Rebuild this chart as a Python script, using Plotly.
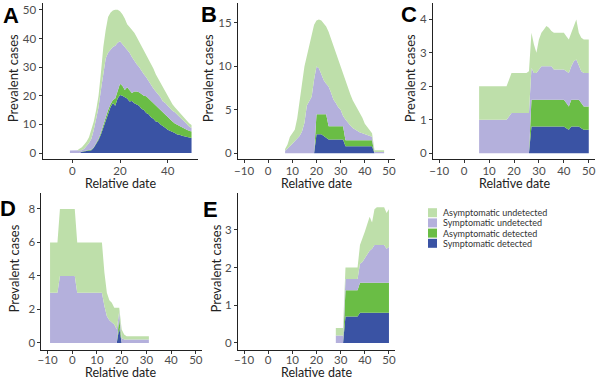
import plotly.graph_objects as go

W, H = 600, 380

# ---------------- data ----------------
series_names = ["Symptomatic detected", "Asymptomatic detected",
                "Symptomatic undetected", "Asymptomatic undetected"]
series_colors = ["#3A53A4", "#6ABD45", "#B4B0DC", "#BEDFAA"]

# Panel A, relative days -1..50
a_days = list(range(-1, 51))
a_sd = [0, 0, 0, 0, 0, 0.4, 0.5, 0.7, 0.8, 1.0, 1.8, 3.0, 4.5, 6.5, 9, 11, 13.5, 16, 17.5, 16.5,
        19, 20.3, 20, 19.5, 19, 18, 18.2, 17.4, 17, 16.5, 15.5, 15, 14, 13.5, 12.5, 12, 11, 10.8,
        10, 9.5, 8.8, 8.1, 7.8, 7.4, 7, 6.5, 6.4, 6, 5.8, 5.5, 5.3, 5.2]
a_ad = [0, 0, 0, 0, 0, 0.1, 0.2, 0.2, 0.2, 0.2, 0.2, 0.3, 0.5, 0.7, 1, 1.5, 1.5, 1, 1, 2.5,
        3, 3.9, 3.5, 2.5, 4, 4, 2.8, 4.1, 4.5, 4.7, 5, 5, 5.8, 5.5, 5.5, 5.3, 5.5, 4.7,
        4.8, 4.5, 4.4, 4.4, 3.9, 3.6, 3.3, 3.3, 2.9, 2.9, 2.7, 2.6, 2.5, 2.3]
a_su = [0.9, 0.9, 0.9, 0.9, 1.0, 0.5, 0.8, 1.6, 2.5, 3.8, 6.0, 8.7, 11, 14.8, 18, 20.5, 20, 19, 18.5, 18.5,
        16.5, 14.8, 14.5, 15, 13, 13, 12.5, 10.5, 9.5, 8.8, 8, 7.5, 6.7, 6, 6, 5.2, 5, 5,
        4.7, 4, 4.3, 4, 3.8, 3.8, 3.9, 3.7, 3.5, 2.9, 2.5, 1.9, 1.5, 1.2]
a_au = [0, 0, 0, 0, 0.5, 1.0, 1.5, 1.5, 2.0, 3.0, 3.0, 3.0, 4, 6, 9, 10, 12.5, 13, 12.8, 12.5,
        11.5, 10.5, 10.5, 10, 9, 9, 9.5, 10, 9.5, 9, 8.5, 8.5, 7.5, 7.5, 7, 7, 6, 5.5,
        5, 5, 3.5, 3, 3, 2.2, 1.8, 1.5, 1.2, 1.2, 1, 1, 1.1, 1.1]

# Panel B, relative days 7..48
b_days = list(range(7, 49))
b_sd = [0] * 13 + [2.2, 2.2, 2.2, 2.0, 1.8] + [1.6] * 7 + [0.8] * 12 + [0] * 5
b_ad = [0] * 13 + [2.3, 2.3, 2.3, 2.5, 2.7] + [1.5] * 7 + [0.7] * 12 + [0] * 5
b_su = [0.3, 0.5, 0.8, 1.1, 1.4, 1.7, 2.0, 2.5, 3.5, 5.5, 6.0, 6.5, 8.5, 5.5, 5.3, 4.5, 3.9, 3.5,
        4.6, 3.9, 3.1, 2.7, 2.2, 1.9, 1.2, 2.4, 2.0, 1.7, 1.4, 1.2, 1.0, 0.9, 0.8, 0.7, 0.6,
        0.5, 0.4, 0.15, 0.15, 0.15, 0.15, 0.15]
b_au = [0.2, 0.5, 1.1, 1.2, 1.3, 2.3, 3.8, 5.5, 6.5, 5.7, 6.3, 7.0, 6.3, 5.3, 5.6, 6.3, 6.6, 6.6,
        6.3, 6.2, 6.1, 5.7, 5.5, 5.0, 4.7, 4.4, 4.0, 3.6, 3.2, 2.9, 2.5, 2.2, 1.8, 1.2, 0.9,
        0.6, 0.4, 0.2, 0.2, 0.2, 0.2, 0.2]

# Panel C, relative days 6..50
c_days = list(range(6, 51))
c_sd = [0] * 21 + [0.8] * 14 + [0.75, 0.7] + [0.8] * 4 + [0.75] + [0.7] * 3
c_ad = [0] * 21 + [0.8] * 14 + [0.75, 0.7] + [0.8] * 4 + [0.75] + [0.7] * 3
c_su = [1.0] * 12 + [1.1] + [1.2] * 7 + [1.2, 0.95, 0.8, 0.8, 0.9, 1.0, 1.0, 1.0, 1.0, 1.0] \
       + [0.9] * 5 + [0.95, 1.0, 1.0, 1.15, 1.2, 1.0, 0.95] + [1.0] * 3
c_au = [1.0] * 12 + [1.1] + [1.2] * 7 + [1.25, 1.05, 0.85, 0.6, 0.9, 1.0, 1.1, 1.2, 1.15, 1.05] \
       + [1.1] * 5 + [1.05, 1.0, 1.0, 1.05, 1.2, 1.0, 1.0] + [1.0] * 3

# Panel D, relative days -9..31
d_days = list(range(-9, 32))
d_sd = [0] * 28 + [0.9] + [0] * 12
d_ad = [0] * 28 + [0.6] + [0] * 12
d_su = [3] * 4 + [4] * 7 + [3] * 11 + [2.2, 1.6, 1.35, 1.2, 1.1, 0.8, 0.4, 0.3, 0.2] + [0.2] * 10
d_au = [3] * 4 + [4] * 7 + [3] * 11 + [2.0, 1.4, 1.2, 1.2, 1.0, 1.3, 0.2, 0.5, 0.3] + [0.2] * 10

# Panel E, relative days 28..50
e_days = list(range(28, 51))
e_sd = [0] * 4 + [0.7] * 6 + [0.8] * 13
e_ad = [0] * 4 + [0.7] * 6 + [0.8] * 13
e_su = [0.2] * 4 + [0.3] * 6 + [0.5, 0.55, 0.65, 0.75, 0.85, 0.9, 1.0, 1.0, 1.0, 1.0, 1.0, 0.9, 0.95]
e_au = [0.2] * 4 + [0.3] * 6 + [0.5, 0.6, 0.7, 0.8, 0.9, 0.7, 0.95, 1.0, 1.0, 1.0, 1.0, 0.95, 1.0]

panel_labels = ["A", "B", "C", "D", "E"]
x_ticks_a = [0, 20, 40]
x_ticks = [-10, 0, 10, 20, 30, 40, 50]
y_ticks = [[0, 10, 20, 30, 40, 50], [0, 5, 10, 15], [0, 1, 2, 3, 4], [0, 2, 4, 6, 8], [0, 1, 2, 3]]
x_title = "Relative date"
y_title = "Prevalent cases"

panels = [
    (a_days, [a_sd, a_ad, a_su, a_au]),
    (b_days, [b_sd, b_ad, b_su, b_au]),
    (c_days, [c_sd, c_ad, c_su, c_au]),
    (d_days, [d_sd, d_ad, d_su, d_au]),
    (e_days, [e_sd, e_ad, e_su, e_au]),
]

# ---------------- layout geometry (pixels) ----------------
boxes = [(42.5, 197.5, 3, 159.3), (238, 395, 3, 159.3), (433, 595, 3, 159.3),
         (41.4, 202, 193, 350), (238, 395, 193, 350)]
y_ranges = [[-2.2, 52.4], [-0.69, 17.3], [-0.18, 4.49], [-0.42, 8.95], [-0.186, 3.98]]
x_range = [-12.5, 52.5]
letter_pos = [(11, 15), (209, 14), (409, 14), (8, 208), (210, 209)]
ytitle_x = [13, 208, 410, 13, 215]
xtitle_y = [183.5, 183.5, 183.5, 372.5, 372.5]
xtitle_cx = [120, 316.5, 514, 120, 316.5]
tick_standoff = [-2, -2, -2, -4, -4]

FONT = "Lato"
TXT = "#4D4D4D"


def fx(p):
    return p / W


def fy(p):
    return 1 - p / H


fig = go.Figure()
for i, (days, layers) in enumerate(panels):
    sfx = "" if i == 0 else str(i + 1)
    for name, vals, col in zip(series_names, layers, series_colors):
        fig.add_trace(go.Scatter(
            x=days, y=vals, name=name, stackgroup="s" + str(i),
            mode="lines", line=dict(width=0, color=col), fillcolor=col,
            xaxis="x" + sfx, yaxis="y" + sfx, showlegend=False, hoverinfo="skip"))

layout = dict(width=W, height=H, margin=dict(l=0, r=0, t=0, b=0),
              paper_bgcolor="white", plot_bgcolor="white", showlegend=False,
              font=dict(family=FONT, color=TXT))
for i, (x0, x1, yt, yb) in enumerate(boxes):
    sfx = "" if i == 0 else str(i + 1)
    common = dict(showline=True, linecolor="#222", linewidth=1, ticks="outside", ticklen=3,
                  tickcolor="#333", tickfont=dict(family=FONT, size=11.5, color=TXT),
                  showgrid=False, zeroline=False, automargin=False, fixedrange=True)
    layout["xaxis" + sfx] = dict(
        domain=[fx(x0), fx(x1)], range=x_range, anchor="y" + sfx,
        tickvals=x_ticks_a if i == 0 else x_ticks, ticklabelstandoff=tick_standoff[i], **common)
    layout["yaxis" + sfx] = dict(
        domain=[fy(yb), fy(yt)], range=y_ranges[i], anchor="x" + sfx,
        tickvals=y_ticks[i], **common)
fig.update_layout(**layout)

for i, (x0, x1, yt, yb) in enumerate(boxes):
    fig.add_annotation(text=x_title, xref="paper", yref="paper",
                       x=fx(xtitle_cx[i]), y=fy(xtitle_y[i]), xanchor="center", yanchor="middle",
                       showarrow=False, font=dict(family=FONT, size=12.5, color="#222"))
    fig.add_annotation(text=y_title, xref="paper", yref="paper", textangle=-90,
                       x=fx(ytitle_x[i]), y=fy((yt + yb) / 2 - 3), xanchor="center", yanchor="middle",
                       showarrow=False, font=dict(family=FONT, size=13, color="#222"))

for lab, (px, py) in zip(panel_labels, letter_pos):
    fig.add_annotation(text="<b>" + lab + "</b>", xref="paper", yref="paper",
                       x=fx(px), y=fy(py), xanchor="center", yanchor="middle",
                       showarrow=False, font=dict(family="Liberation Sans", size=22, color="black"))

# manual legend (top to bottom: reversed stacking order)
row_y = [212.7, 222.9, 233.1, 243.3]
for k, idx in enumerate([3, 2, 1, 0]):
    cy = row_y[k]
    fig.add_shape(type="rect", xref="paper", yref="paper",
                  x0=fx(428), x1=fx(437), y0=fy(cy + 4.5), y1=fy(cy - 4.5),
                  fillcolor=series_colors[idx], line=dict(width=0))
    fig.add_annotation(text=series_names[idx], xref="paper", yref="paper",
                       x=fx(440.5), y=fy(cy), xanchor="left", yanchor="middle",
                       showarrow=False, font=dict(family=FONT, size=9, color="#333"))

fig.write_html("out.html", config={"displayModeBar": False},
               post_script="document.body.style.margin='0px';document.body.style.overflow='hidden';")
